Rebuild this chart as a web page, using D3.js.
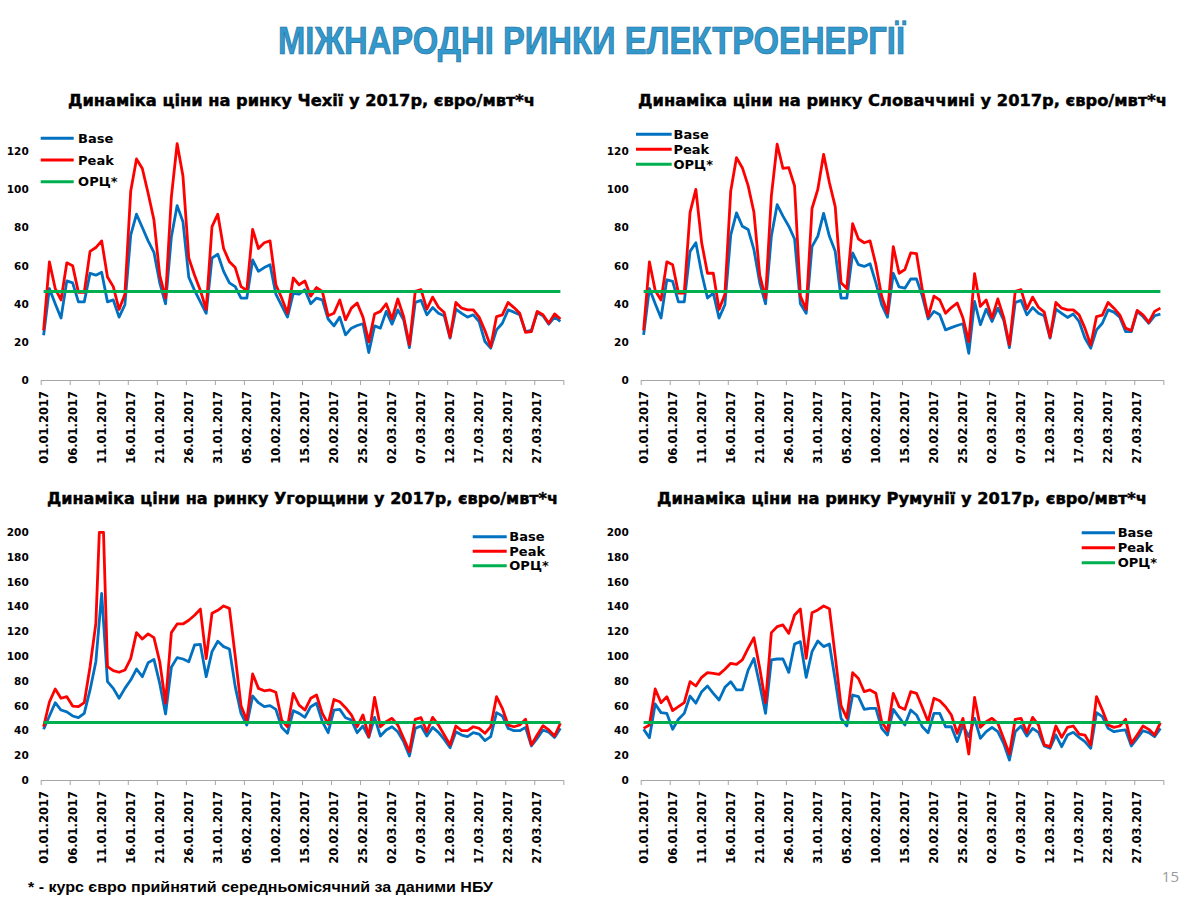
<!DOCTYPE html>
<html><head><meta charset="utf-8">
<script src="https://cdn.jsdelivr.net/npm/d3@7/dist/d3.min.js"></script>
<style>body{margin:0;background:#fff}svg{display:block}</style>
</head><body>
<svg id="c" width="1200" height="900"></svg>
<script>
// ---------- DATA ----------
const tickLabels = ["01.01.2017","06.01.2017","11.01.2017","16.01.2017","21.01.2017","26.01.2017",
  "31.01.2017","05.02.2017","10.02.2017","15.02.2017","20.02.2017","25.02.2017","02.03.2017",
  "07.03.2017","12.03.2017","17.03.2017","22.03.2017","27.03.2017"];
const seriesNames = ["Base","Peak","ОРЦ*"];
const orcRate = 46.4;

const czBase = [23.5,48,40,32.5,52,51,41,41,56,55,56.5,41,42,33,39.5,76,87,80,73,67,51,40,75,91.5,83,54,47,41,35,64,66,57,51,49,43,43,63,57,59,60.5,45,39,33,45.5,45,
  47.4,40,43,42,32,28.4,33,23.7,27.2,28.6,29.5,14.4,28.4,27.2,36,29.3,36.8,31.6,17,40.7,41.8,34.2,38,35,33.7,22,37.2,35,33,34.2,30.7,20.2,16.7,26.3,29.8,36.8,35.6,34.2,25.4,26,35.4,33.7,29.3,33,30.7];
const czPeak = [26,62,48,42,61.5,60,46,46,67.5,69.5,73,54,49,37,45,99,116,111,98,84,55,43,96,124,107,64,55,47,37,80.5,87,69,62,59,49,47,79,69,72,73,50,43,35,53.5,50,
  52,44,48.5,46.5,33.7,35,42,31.6,37.7,40.4,33,20,34.6,36,40,32,42.5,33.3,18.4,46.5,47.4,37.2,43.5,38.2,35.4,22.5,40.7,37.7,36.8,36.8,33,26,17.5,33.3,34.2,40.7,38,35,25,25.4,36,34.2,29.8,34.7,32];

const skBase = [23.7,48,40,32.5,52.6,51.8,41,41,67.5,72,56,43,45.6,32.5,39.5,76,87.7,80.7,79,68.4,51,40,75.4,92,86,80.7,74,40,35,70,75.4,87.4,75.4,67.5,43,43,66.7,60.5,59.6,61,51,39.5,33,56,48.8,
  48.2,53,53,44,32,36,34.2,26.3,27.5,28.6,29.5,14,41.2,29,37.2,30.7,37.7,31.6,17,40.7,41.8,34.2,38,35,33.7,22,37.2,35,32.8,34.6,30.7,22,16.7,26.3,29.8,36.8,35.6,33,25.4,25.4,36,33.3,29.8,33.7,34.6];
const skPeak = [26,62,47,42,62,60.5,45.6,45.6,88,100,72,56,56,37,45,99,116.7,111.4,102,88,55,43,96.5,123.7,111,111.4,101.8,44,37,90,100,118.4,103.5,91,51,48,82,74,72,73,60.5,44,35,70,56,
  58,66.7,66.3,47.4,33.3,44,42,35,38,40.4,32.5,20,55.8,38.6,42,32.5,42.6,33,18.4,46.5,47.4,37.2,43.5,38.2,35.6,22.5,40.7,37.7,36.8,36.8,34.2,27.2,18.4,33.3,34,40.7,37.7,34.2,27.2,26,36.5,34.2,30.2,36,37.7];

const huBase = [41,51.7,62.4,56.5,55,51.7,50.3,53.8,72.7,95.5,150.7,79.4,74,66,74,80.7,89.6,83.4,94.7,97.4,78,53.3,91,98.8,97.7,95.5,109,109.5,83.4,103.6,112,107.7,105.8,75.4,53.8,44.4,67.8,62.4,59.2,60,57,42.5,37.7,56,53.8,
  50.6,59.2,62,47.1,38.2,56.5,57,50.3,48.4,38.2,43.6,34.4,50.6,35.5,40.4,43,39,31,19.4,41.7,43.6,35.5,42.5,38.5,32.8,26,39,36.3,35,38.2,37.1,31.8,35,54.4,51.7,41.7,39.8,39.8,42.5,27.5,33.6,40.4,38.5,34.4,41.7];
const huPeak = [43,63,73.5,66,67.3,59.7,59.2,62.4,91.5,126.5,250,91.5,88.3,87,88.8,98,119,113.8,118,115,95.5,62,119,126,126,129,133,138,98,134.6,137,140.5,138.6,100,60,48,85.6,74,72,72.7,70.8,48.4,43,70,60.5,
  56.5,66,68.6,53.8,45.2,65,63.2,58.4,52.5,43,52.5,35,66.7,43,47.1,49.8,44.4,33.6,22.9,49,50.3,39,50.6,44.4,36.3,28.3,43.6,39.8,39.8,43,41.7,37.7,43,67.3,57.9,44.4,43,44.4,49,28.3,36.3,43.9,40.4,35.5,45.8];

const roBase = [41,34.2,61.4,54.4,53.8,41,49,53.8,67.8,62,71.3,75.9,70,64.6,74.8,79.4,72.7,72.7,88.8,98.2,76.7,53.8,96.9,97.7,97.7,86.9,109.8,111.7,82.9,103.6,112.2,107.7,109.8,80.7,49.8,43.6,68.6,67.3,57,57.9,57.9,41.7,36.3,57,50.6,
  44.4,56.5,52.5,43,38.2,53.8,53.8,43,43,31,44.4,35,49.8,33.6,39,42.5,39,29.6,16.1,39,43.6,35.5,41.7,38.5,27.5,25.6,36.3,26.9,36.3,38.5,34.4,31,25.6,54.4,51.1,41.7,39,39.8,40.4,27.5,33.6,39.8,38.2,35,41.7];
const roPeak = [41.7,44.4,73.5,62.4,67.3,56,59.2,62.4,79.4,75.9,82.9,86.7,86.1,85.3,89.4,94.2,93.4,96.9,106.3,114.9,90.2,62.4,119,123.8,125.2,118.4,133.2,138,98.2,135.1,137.3,140.5,138.3,100,60,50,86.7,82,71.3,72.7,70,47.1,39.8,70,59.2,
  57,71.3,70,58.7,47.1,66,64,59.2,52.5,37.7,49.8,21,66.7,42.5,47.1,49.8,45.8,33.6,21,49,49.8,38.2,50.6,44.4,28.3,26.9,43.6,34.4,42.5,43.6,37.1,36.3,28.3,67.3,56.5,44.4,42.5,43.6,49,29.6,36.3,43.6,40.9,36.3,46.3];

const titles = [
  "Динаміка ціни на ринку Чехії у 2017р, євро/мвт*ч",
  "Динаміка ціни на ринку Словаччині у 2017р, євро/мвт*ч",
  "Динаміка ціни на ринку Угорщини у 2017р, євро/мвт*ч",
  "Динаміка ціни на ринку Румунії у 2017р, євро/мвт*ч"
];
const mainTitle = "МІЖНАРОДНІ РИНКИ ЕЛЕКТРОЕНЕРГІЇ";
const footnote = "* - курс євро прийнятий середньомісячний за даними НБУ";
const pageNo = "15";

// ---------- LAYOUT ----------
const colors = {base:"#0070C0", peak:"#FF0000", orc:"#00B050"};
const panels = [
  {title:titles[0], base:czBase, peak:czPeak, left:40.7, right:563.3, bottom:380, top:151.3, max:120, clipMax:135, step:20,
   tx:68, tw:467, ty:105.5, lg:{x:40.7, len:33, y:138.3, dy:21.7, gap:4.4}},
  {title:titles[1], base:skBase, peak:skPeak, left:640.7, right:1163.3, bottom:380, top:151.3, max:120, clipMax:135, step:20,
   tx:638, tw:529, ty:105.5, lg:{x:636, len:35.7, y:134.3, dy:15, gap:1.8}},
  {title:titles[2], base:huBase, peak:huPeak, left:40.7, right:563.3, bottom:780, top:532.3, max:200, clipMax:200, step:20,
   tx:47, tw:511, ty:504, lg:{x:472.7, len:34, y:536.7, dy:14.5, gap:2.6}},
  {title:titles[3], base:roBase, peak:roPeak, left:640.7, right:1163.3, bottom:780, top:532.3, max:200, clipMax:200, step:20,
   tx:657, tw:490, ty:504, lg:{x:1081.7, len:33.3, y:532.7, dy:15, gap:2.7}}
];

const svg = d3.select("#c");
const FONT = "'DejaVu Sans', Verdana, sans-serif";

// values above the plot-area top are drawn flattened along the edge (as the spreadsheet does)
function edgeClamp(data, lim) {
  const pts = [];
  data.forEach((v, i) => {
    if (i > 0) {
      const pv = data[i - 1];
      if ((pv - lim) * (v - lim) < 0) pts.push([i - 1 + (lim - pv) / (v - pv), lim]);
    }
    pts.push([i, Math.min(v, lim)]);
  });
  return pts;
}

// main title
svg.append("text").attr("x", 591.5).attr("y", 54).attr("text-anchor","middle")
  .attr("font-family","'Liberation Sans', Arial, sans-serif").attr("font-weight","bold")
  .attr("font-size", 38).attr("fill","#3399CC").attr("stroke","#1d6f9c").attr("stroke-width",0.7)
  .attr("textLength", 627).attr("lengthAdjust","spacingAndGlyphs").text(mainTitle);

panels.forEach((p, pi) => {
  const n = p.base.length;
  const x = d3.scaleLinear().domain([0, n]).range([p.left, p.right]);
  const y = d3.scaleLinear().domain([0, p.max]).range([p.bottom, p.top]);
  const g = svg.append("g");

  // title
  g.append("text").attr("x", p.tx).attr("y", p.ty)
    .attr("font-family", FONT).attr("font-weight","bold").attr("font-size", 16)
    .attr("stroke","#000").attr("stroke-width",0.45)
    .attr("textLength", p.tw).attr("lengthAdjust","spacingAndGlyphs").text(p.title);

  // y axis labels
  const ya = d3.axisLeft(y).tickValues(d3.range(0, p.max + 1, p.step)).tickSize(0).tickPadding(12);
  const yg = g.append("g").attr("transform", `translate(${p.left},0)`).call(ya);
  yg.select(".domain").remove();
  yg.selectAll("text").attr("font-family", FONT).attr("font-weight","bold").attr("font-size", 10.5).attr("fill","#000");

  // x axis
  const xa = d3.axisBottom(x).tickValues(d3.range(0, n + 1, 5)).tickSize(5).tickSizeOuter(0).tickFormat("");
  const xg = g.append("g").attr("transform", `translate(0,${p.bottom})`).call(xa);
  xg.select(".domain").attr("stroke","#A6A6A6");
  xg.selectAll(".tick line").attr("stroke","#A6A6A6");
  g.append("g").selectAll("text").data(tickLabels).join("text")
    .attr("transform", (d, k) => `translate(${x(k * 5 + 0.5)},${p.bottom + 11}) rotate(-90)`)
    .attr("text-anchor","end").attr("dy","0.36em")
    .attr("font-family", FONT).attr("font-weight","bold").attr("font-size", 11.5)
    .text(d => d);

  const line = d3.line().x(d => x(d[0] + 0.5)).y(d => y(d[1]));
  const lg = g.append("g");
  const orc = p.base.map(() => orcRate);
  [[p.base, colors.base], [p.peak, colors.peak], [orc, colors.orc]].forEach(([data, col]) => {
    lg.append("path").datum(edgeClamp(data, p.clipMax)).attr("d", line).attr("fill","none")
      .attr("stroke", col).attr("stroke-width", col === colors.orc ? 3 : 2.8)
      .attr("stroke-linejoin","round");
  });

  // legend
  const legCols = [colors.base, colors.peak, colors.orc];
  seriesNames.forEach((nm, k) => {
    const yy = p.lg.y + k * p.lg.dy;
    g.append("line").attr("x1", p.lg.x).attr("x2", p.lg.x + p.lg.len).attr("y1", yy).attr("y2", yy)
      .attr("stroke", legCols[k]).attr("stroke-width", 3);
    g.append("text").attr("x", p.lg.x + p.lg.len + p.lg.gap).attr("y", yy).attr("dy","0.36em")
      .attr("font-family", FONT).attr("font-weight","bold").attr("font-size", 13).text(nm);
  });
});

// footnote and page number
svg.append("text").attr("x", 28).attr("y", 892)
  .attr("font-family","'Liberation Sans', Arial, sans-serif").attr("font-weight","bold").attr("font-size", 15)
  .attr("textLength", 465).attr("lengthAdjust","spacingAndGlyphs").text(footnote);
svg.append("text").attr("x", 1179).attr("y", 882).attr("text-anchor","end")
  .attr("font-family","'Open Sans', 'Liberation Sans', sans-serif").attr("font-size", 15)
  .attr("fill","#9a9a9a").text(pageNo);
</script>
</body></html>
